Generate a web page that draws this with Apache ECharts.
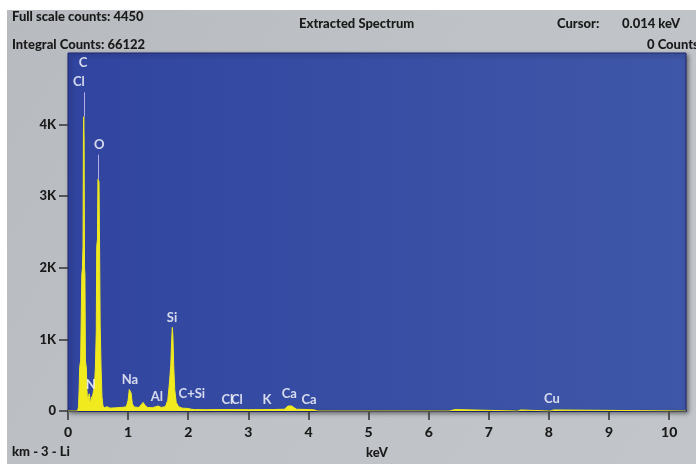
<!DOCTYPE html>
<html>
<head>
    <meta charset="utf-8">
    <style type="text/css">
        html,body { margin: 0px; padding: 0px; background: #ffffff; }
        #main { width: 696px; height: 464px; }
    </style>
    <script src="https://cdn.jsdelivr.net/npm/echarts@6/dist/echarts.min.js"></script>
</head>
<body>
    <div id="main"></div>
    <script type="text/javascript">
        // spectrum: [keV, counts]
        var spectrum = [
            [0, 0], [0.16, 0], [0.175, 60], [0.185, 300], [0.195, 620], [0.21, 700], [0.222, 720],
            [0.23, 1900], [0.24, 2000], [0.25, 2300], [0.257, 3900], [0.262, 4110], [0.268, 3800],
            [0.275, 2000], [0.282, 1900], [0.29, 700], [0.305, 600], [0.315, 300], [0.325, 150],
            [0.34, 180], [0.352, 240], [0.362, 150], [0.375, 110], [0.388, 200], [0.4, 160],
            [0.415, 240], [0.43, 300], [0.44, 350], [0.455, 600], [0.47, 1100], [0.478, 2300],
            [0.49, 2400], [0.498, 3236], [0.508, 3236], [0.516, 3200], [0.524, 2400], [0.535, 1200],
            [0.55, 600], [0.565, 200], [0.58, 80], [0.6, 45], [0.65, 60], [0.7, 40], [0.8, 45],
            [0.9, 50], [0.97, 60], [1.0, 150], [1.02, 300], [1.035, 320], [1.05, 250], [1.07, 100],
            [1.1, 55], [1.18, 50], [1.22, 90], [1.25, 120], [1.28, 80], [1.32, 50], [1.4, 45],
            [1.46, 60], [1.5, 70], [1.55, 50], [1.62, 60], [1.66, 150], [1.69, 420], [1.71, 650],
            [1.725, 1000], [1.735, 1167], [1.745, 1050], [1.76, 600], [1.775, 300], [1.8, 120],
            [1.84, 60], [1.9, 40], [2.0, 35], [2.05, 25], [2.1, 20], [2.3, 18], [2.6, 20], [3.0, 18],
            [3.4, 20], [3.6, 25], [3.66, 70], [3.69, 85], [3.72, 70], [3.8, 25], [4.0, 20], [4.1, 15],
            [4.15, 0], [6.34, 0], [6.36, 20], [6.44, 20], [6.46, 0], [7.48, 0], [7.5, 15], [7.53, 15],
            [7.55, 0], [8.02, 0], [8.04, 15], [8.08, 15], [8.1, 0], [10.28, 0]
        ];

        // peak labels: name, keV, counts (label anchor)
        var peakNames  = ['C', 'Cl', 'O', 'N', 'Na', 'Al', 'Si', 'C+Si', 'Cl', 'Cl', 'K', 'Ca', 'Ca', 'Cu'];
        var peakEnergy = [0.25, 0.18, 0.52, 0.38, 1.03, 1.48, 1.73, 2.06, 2.65, 2.81, 3.31, 3.68, 4.01, 8.05];
        var peakCounts = [4860, 4600, 3720, 360, 440, 195, 1305, 235, 150, 150, 150, 235, 150, 165];

        // marker lines above the C and O peaks
        var markerEnergy = [0.262, 0.508];
        var markerFrom   = [4110, 3236];
        var markerTo     = [4450, 3580];

        var FONT = 'Lato, "Liberation Sans", sans-serif';

        var labelData = [];
        for (var i = 0; i < peakNames.length; i++) {
            labelData.push([peakEnergy[i], peakCounts[i], peakNames[i]]);
        }
        var markLines = [];
        for (var j = 0; j < markerEnergy.length; j++) {
            markLines.push([{coord: [markerEnergy[j], markerFrom[j]]}, {coord: [markerEnergy[j], markerTo[j]]}]);
        }

        var myChart = echarts.init(document.getElementById('main'));

        var headStyle = { fill: '#1a1a1a', font: '900 13px ' + FONT };

        var option = {
            animation: false,
            backgroundColor: 'transparent',
            graphic: [
                { type: 'rect', z: -10, shape: { x: 7, y: 10, width: 689, height: 454 },
                  style: { fill: new echarts.graphic.LinearGradient(0, 0, 1, 1, [
                      { offset: 0, color: '#b7bbbf' }, { offset: 0.5, color: '#bfc3c7' }, { offset: 1, color: '#c2c6ca' }]) } },
                { type: 'text', left: 12, top: 10, style: Object.assign({ text: 'Full scale counts: 4450' }, headStyle) },
                { type: 'text', left: 12, top: 38, style: Object.assign({ text: 'Integral Counts: 66122' }, headStyle) },
                { type: 'text', left: 299, top: 17, style: Object.assign({ text: 'Extracted Spectrum' }, headStyle) },
                { type: 'text', left: 557, top: 17, style: Object.assign({ text: 'Cursor:' }, headStyle) },
                { type: 'text', left: 622, top: 17, style: Object.assign({ text: '0.014 keV' }, headStyle) },
                { type: 'text', left: 647, top: 38, style: Object.assign({ text: '0 Counts' }, headStyle) },
                { type: 'text', left: 12, top: 445, style: Object.assign({ text: 'km - 3 - Li' }, headStyle) }
            ],
            grid: {
                left: 68, right: 10, top: 53, bottom: 51,
                show: true,
                backgroundColor: new echarts.graphic.LinearGradient(0, 0, 1, 0, [
                    { offset: 0, color: '#3145a0' }, { offset: 1, color: '#3f57a8' }]),
                borderColor: '#1c2470', borderWidth: 1,
                shadowColor: 'rgba(0,0,0,0.45)', shadowBlur: 4, shadowOffsetX: 2, shadowOffsetY: 2
            },
            xAxis: {
                type: 'value', min: 0, max: 10.28, interval: 1,
                name: 'keV', nameLocation: 'middle', nameGap: 35,
                nameTextStyle: { color: '#1a1a1a', fontWeight: 900, fontSize: 13, fontFamily: FONT },
                axisLine: { show: true, lineStyle: { color: '#1c2470', width: 2 } },
                axisTick: { show: true, length: 9, lineStyle: { color: '#333', width: 1.5 } },
                axisLabel: { color: '#1a1a1a', fontWeight: 900, fontSize: 14, fontFamily: FONT, margin: 14, showMaxLabel: false },
                splitLine: { show: false }
            },
            yAxis: {
                type: 'value', min: 0, max: 5000, interval: 1000,
                axisLine: { show: false },
                axisTick: { show: true, length: 9, lineStyle: { color: '#333', width: 1.5 } },
                axisLabel: {
                    color: '#1a1a1a', fontWeight: 900, fontSize: 13, fontFamily: FONT, margin: 12,
                    showMaxLabel: false,
                    formatter: function (v) { return v === 0 ? '0' : (v / 1000) + 'K'; }
                },
                splitLine: { show: false }
            },
            series: [
                {
                    type: 'line', data: spectrum, showSymbol: false, symbol: 'none',
                    lineStyle: { color: '#f0ea1e', width: 1 },
                    areaStyle: { color: '#f0ea1e', opacity: 1 },
                    markLine: {
                        silent: true, symbol: 'none', label: { show: false },
                        lineStyle: { color: '#b4aee6', width: 1, type: 'solid' },
                        data: markLines
                    }
                },
                {
                    type: 'scatter', data: labelData, symbolSize: 0, z: 5,
                    label: {
                        show: true, position: 'inside', color: '#ffffff',
                        fontWeight: 'bold', fontSize: 13, fontFamily: FONT,
                        formatter: function (p) { return p.data[2]; }
                    }
                }
            ]
        };

        myChart.setOption(option);
    </script>
</body>
</html>
